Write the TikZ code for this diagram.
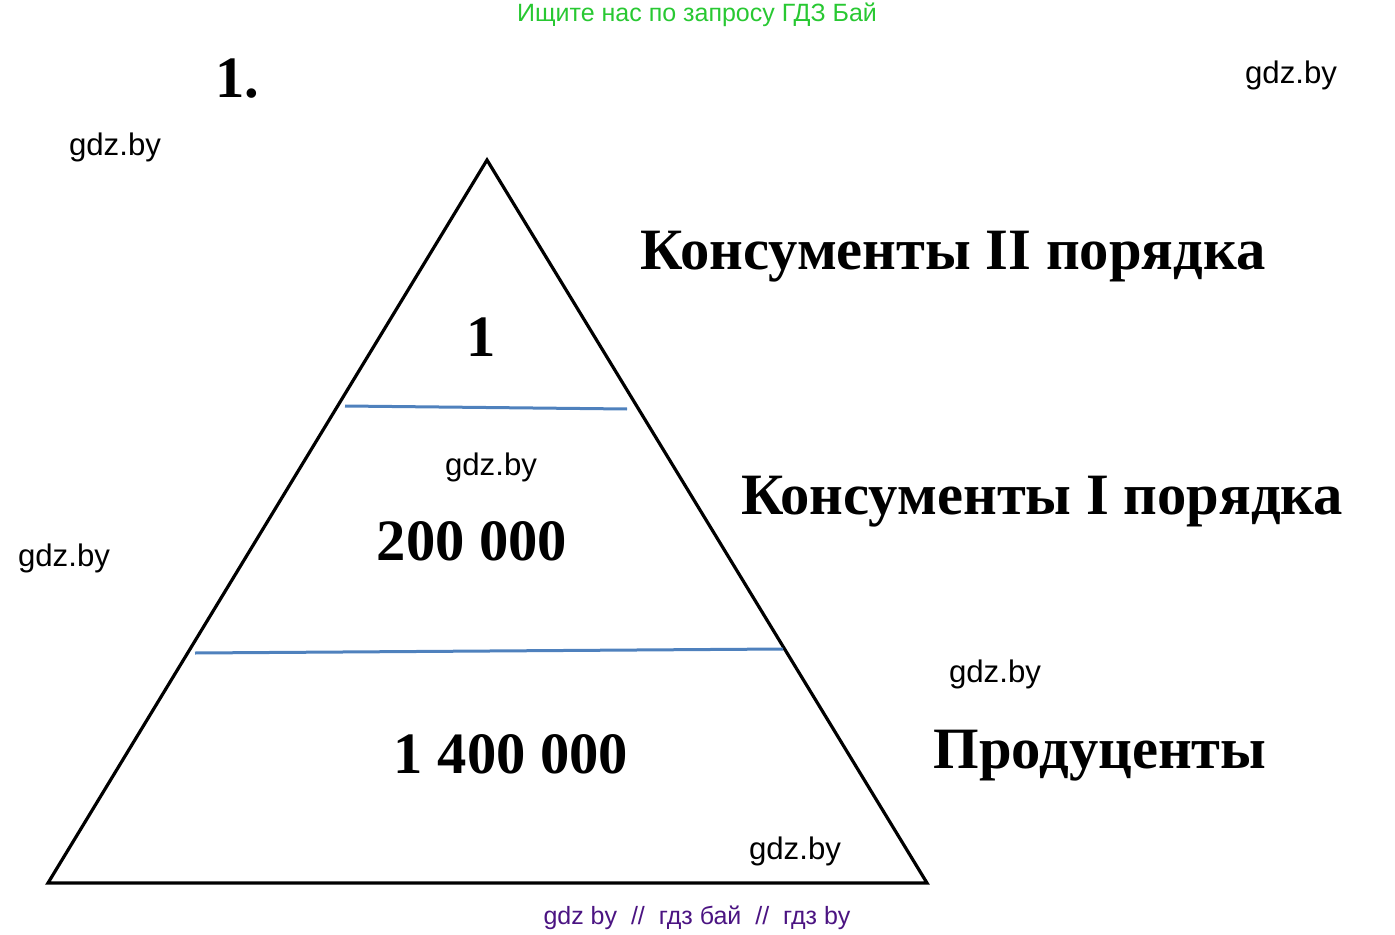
\documentclass[tikz,border=0pt]{standalone}
\usepackage{fontspec}
\setmainfont{Liberation Serif}
\newfontfamily\wmfont{Liberation Sans}
\definecolor{lineblue}{RGB}{79,129,189}
\definecolor{headgreen}{RGB}{40,200,50}
\definecolor{footpurple}{RGB}{75,20,130}
\tikzset{
    big/.style={font=\fontsize{29.3}{35}\selectfont\bfseries, inner sep=0pt},
    mark wm/.style={font=\wmfont\fontsize{15.6}{18}\selectfont, inner sep=0pt},
    level line/.style={line width=1.5pt, draw=lineblue}
}
\begin{document}
\begin{tikzpicture}[x=0.5pt, y=-0.5pt]
        \useasboundingbox (0,0) rectangle (1395,935);

        \coordinate (top) at (487,160);
        \coordinate (bl) at (48,883);
        \coordinate (br) at (927,883);
        \draw [line width=1.6pt, line join=miter] (top) -- (br) -- (bl) -- cycle;

        \coordinate (a1) at (345,406);
        \coordinate (a2) at (627,409);
        \coordinate (b1) at (195,653);
        \coordinate (b2) at (783,649);
        \draw [level line] (a1) -- (a2);
        \draw [level line] (b1) -- (b2);

        \node [big] (num) at (237,79) {1.};
        \node [big] (k2) at (953,257) {Консументы II порядка};
        \node [big] (k1) at (1042,502) {Консументы I порядка};
        \node [big] (pr) at (1100,756) {Продуценты};
        \node [big] (n1) at (481,337) {1};
        \node [big] (n2) at (472,541) {200 000};
        \node [big] (n3) at (511,754) {1 400 000};

        \node [mark wm] (w1) at (1291,75) {gdz.by};
        \node [mark wm] (w2) at (115,147) {gdz.by};
        \node [mark wm] (w3) at (491,467) {gdz.by};
        \node [mark wm] (w4) at (64,558) {gdz.by};
        \node [mark wm] (w5) at (995,674) {gdz.by};
        \node [mark wm] (w6) at (795,851) {gdz.by};

        \node [mark wm, font=\wmfont\fontsize{12.5}{15}\selectfont, text=headgreen] (head) at (697,15) {Ищите нас по запросу ГДЗ Бай};
        \node [mark wm, font=\wmfont\fontsize{12.5}{15}\selectfont, text=footpurple] (foot) at (697,918) {gdz by \ // \ гдз бай \ // \ гдз by};
    \end{tikzpicture}
\end{document}
